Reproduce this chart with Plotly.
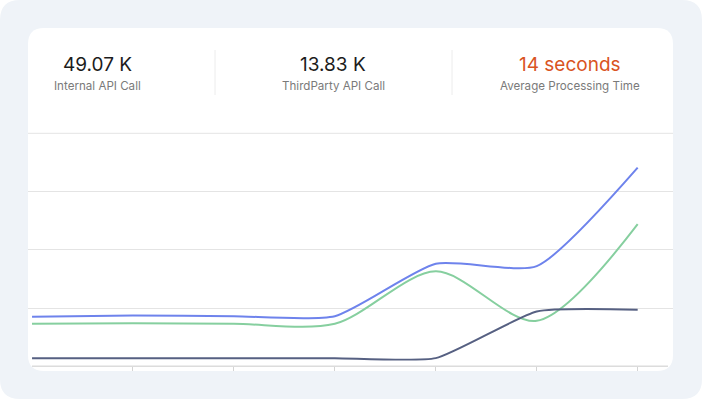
import plotly.graph_objects as go

W, H = 702, 399

# ---- data ----
x_points = [0, 1, 2, 3, 4, 5, 6]
internal_api = [8.5, 8.7, 8.6, 8.6, 17.6, 17.2, 34.1]
thirdparty_api = [7.3, 7.4, 7.3, 7.3, 16.3, 7.8, 24.4]
processing = [1.4, 1.4, 1.4, 1.4, 1.4, 9.4, 9.7]

kpi_values = ["49.07 K", "13.83 K", "14 seconds"]
kpi_labels = ["Internal API Call", "ThirdParty API Call", "Average Processing Time"]
kpi_colors = ["#1c1c1c", "#1c1c1c", "#d9541f"]
y_grid = [0, 10, 20, 30, 40]

# ---- helpers (pixel -> paper) ----
def px(x):
    return x / W

def py(y):
    return 1 - y / H

def rounded_rect(x0, y0, x1, y1, r):
    rx, ry = r / W, r / H
    X0, X1 = px(x0), px(x1)
    Y0, Y1 = py(y0), py(y1)
    return (f"M {X0+rx},{Y0} L {X1-rx},{Y0} Q {X1},{Y0} {X1},{Y0-ry} "
            f"L {X1},{Y1+ry} Q {X1},{Y1} {X1-rx},{Y1} "
            f"L {X0+rx},{Y1} Q {X0},{Y1} {X0},{Y1+ry} "
            f"L {X0},{Y0-ry} Q {X0},{Y0} {X0+rx},{Y0} Z")

fig = go.Figure()

series = [
    ("Internal API Call", internal_api, "#6e83ec", 0.6),
    ("ThirdParty API Call", thirdparty_api, "#86cf9f", 0.85),
    ("Average Processing Time", processing, "#566082", 0.5),
]
for name, ys, col, sm in series:
    fig.add_trace(go.Scatter(
        x=x_points, y=ys, name=name, mode="lines",
        line=dict(color=col, width=2, shape="spline", smoothing=sm),
        hoverinfo="skip",
    ))

shapes = [
    dict(type="path", path=rounded_rect(0, 0, 702, 399, 20), xref="paper", yref="paper",
         fillcolor="#eff3f8", line=dict(width=0), layer="below"),
    dict(type="path", path=rounded_rect(28, 28, 673, 371, 16), xref="paper", yref="paper",
         fillcolor="#ffffff", line=dict(width=0), layer="below"),
    dict(type="line", xref="paper", yref="paper", x0=px(215), x1=px(215), y0=py(50), y1=py(95),
         line=dict(color="#ececec", width=1)),
    dict(type="line", xref="paper", yref="paper", x0=px(452), x1=px(452), y0=py(50), y1=py(95),
         line=dict(color="#ececec", width=1)),
    # top grid line (range edge)
    dict(type="line", xref="paper", yref="paper", x0=px(28), x1=px(673), y0=py(133.3), y1=py(133.3),
         line=dict(color="#e4e4e4", width=1), layer="below"),
    dict(type="line", xref="paper", yref="paper", x0=px(32), x1=px(668), y0=py(366.3), y1=py(366.3),
         line=dict(color="#dcdcdc", width=1.5), layer="below"),
]

centers = [97, 333, 570]
annotations = []
for cx, v, lab, c in zip(centers, kpi_values, kpi_labels, kpi_colors):
    annotations.append(dict(x=px(cx), y=py(65), xref="paper", yref="paper", text=v,
                            showarrow=False, xanchor="center", yanchor="middle",
                            font=dict(family="Inter, Roboto, sans-serif", size=19, color=c)))
    annotations.append(dict(x=px(cx), y=py(86), xref="paper", yref="paper", text=lab,
                            showarrow=False, xanchor="center", yanchor="middle",
                            font=dict(family="Inter, Roboto, sans-serif", size=11.6, color="#7a7a7a")))

fig.update_layout(
    width=W, height=H,
    margin=dict(l=0, r=0, t=0, b=0),
    paper_bgcolor="#ffffff",
    plot_bgcolor="rgba(0,0,0,0)",
    showlegend=False,
    shapes=shapes,
    annotations=annotations,
    xaxis=dict(domain=[px(28), px(673)], range=[-0.04, 6.35], showgrid=False, zeroline=False,
               showline=False, tickvals=[1, 2, 3, 4, 5, 6], ticks="outside", ticklen=4,
               tickcolor="#d4d4d4", tickwidth=1, showticklabels=False, fixedrange=True),
    yaxis=dict(domain=[py(366.3), py(133.3)], range=[0, 40], tickvals=y_grid[1:4],
               showgrid=True, gridcolor="#e4e4e4", gridwidth=1, zeroline=False,
               showline=False, showticklabels=False, fixedrange=True),
)

fig.write_html(
    "out.html",
    config={"displayModeBar": False},
    post_script="document.body.style.margin='0';document.body.style.padding='0';"
                "window.dispatchEvent(new Event('resize'));",
)
